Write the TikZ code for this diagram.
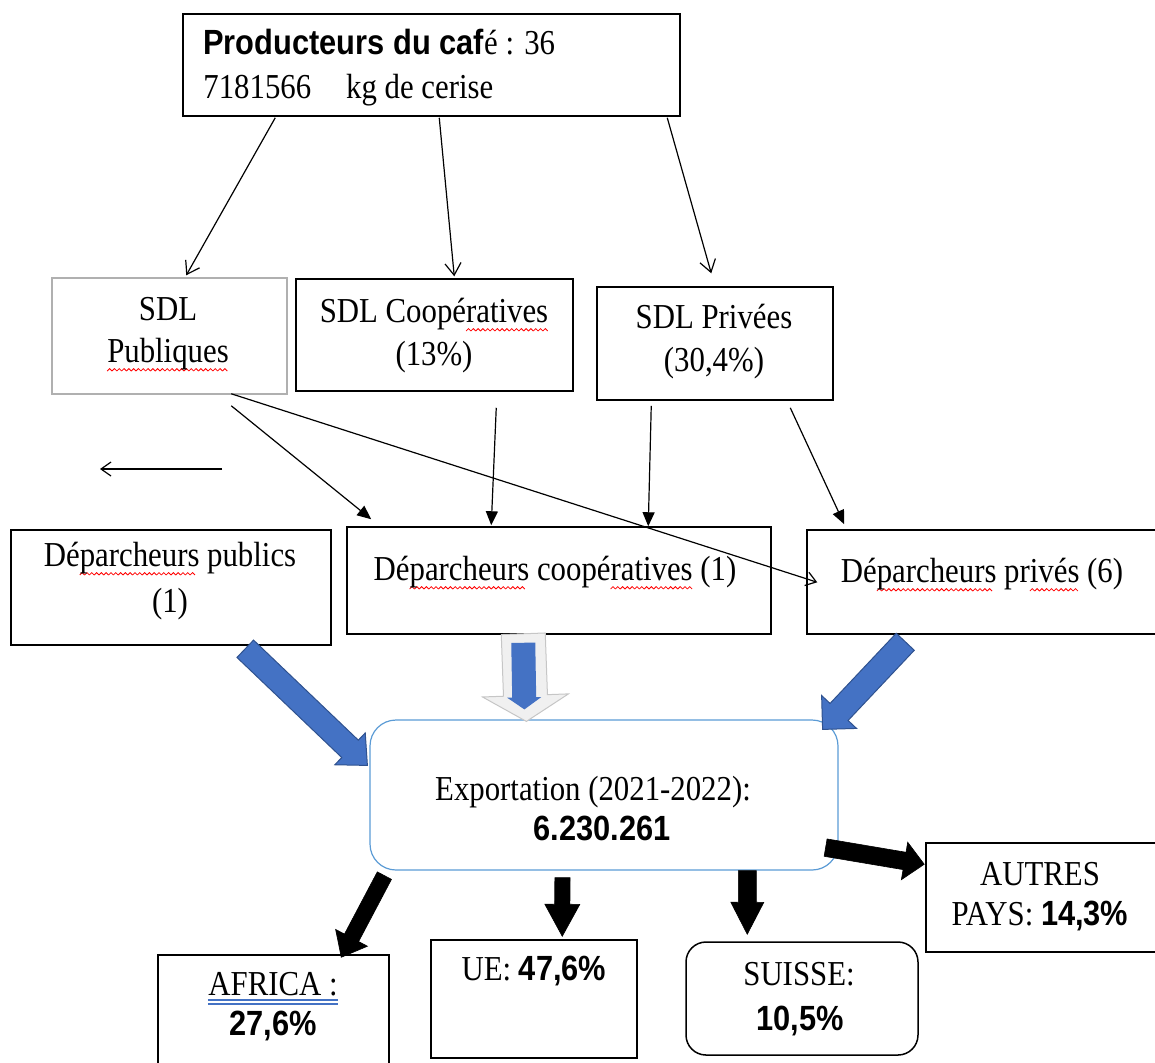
\documentclass[tikz,border=0pt]{standalone}
\usepackage{fontspec}
\setmainfont{Liberation Serif}[FakeStretch=0.88]
\setsansfont{Liberation Sans}[FakeStretch=0.88]
\usetikzlibrary{arrows.meta,calc}
\definecolor{blueFill}{HTML}{4472C4}
\definecolor{blueEdge}{HTML}{2F528F}
\definecolor{expBorder}{HTML}{5B9BD5}
\definecolor{pubBorder}{HTML}{B0B0B0}
\newsavebox\wavebox
\newsavebox\waveunit
\sbox\waveunit{\tikz[baseline=0pt]{\useasboundingbox (0pt,0pt) rectangle (2.4pt,1.2pt);
  \draw[red, line width=0.4pt] (0pt,0pt) -- (1.2pt,1.2pt) -- (2.4pt,0pt);}}
\newcommand\redwave[1]{\sbox\wavebox{#1}\rlap{\lower4.5pt\hbox to \wd\wavebox{\leaders\copy\waveunit\hfill}}\usebox\wavebox}
\newcommand\boldnum[1]{\textsf{\bfseries #1}}
% block arrow: style, start, end, half shaft, half head, head length
\newcommand\blockarrow[6]{%
  \coordinate (ba-c) at ($(#3)!#6!(#2)$);
  \path[#1] ($(#2)!#4!90:(#3)$) -- ($(ba-c)!#4!-90:(#2)$) -- ($(ba-c)!#5!-90:(#2)$) -- (#3)
    -- ($(ba-c)!#5!90:(#2)$) -- ($(ba-c)!#4!90:(#2)$) -- ($(#2)!#4!-90:(#3)$) -- cycle;
}
\tikzset{
  box/.style={draw=black, line width=0.75pt, inner sep=0pt},
  lbl/.style={inner sep=0pt, anchor=base, font=\fontsize{17.5}{21}\selectfont},
  thinline/.style={draw=black, line width=0.6pt},
  barbtip/.style={thinline, -{Straight Barb[length=6pt,width=8pt]}},
  smallbarb/.style={thinline, -{Straight Barb[length=5pt,width=7pt]}},
  tritip/.style={thinline, -{Triangle[length=7pt,width=6pt]}},
  bluearrow/.style={fill=blueFill, draw=blueEdge, line width=0.5pt, line join=miter},
  grayarrow/.style={fill=gray!12, draw=gray!45, line width=0.5pt},
  blackarrow/.style={fill=black, draw=black, line width=0.3pt},
}
\begin{document}
\begin{tikzpicture}[x=0.5pt, y=-0.5pt]
\useasboundingbox (0,0) rectangle (1155,1062);

% boxes
\node[box, minimum width=248.5pt, minimum height=51pt] (top) at (431.5,65) {};
\node[box, draw=pubBorder, minimum width=117.5pt, minimum height=58pt] (pub) at (169.5,336) {};
\node[box, minimum width=138.5pt, minimum height=56pt] (coop) at (434.5,335) {};
\node[box, minimum width=118pt, minimum height=56.5pt] (priv) at (715,343.5) {};
\node[box, minimum width=160pt, minimum height=57.5pt] (dpub) at (171,587.5) {};
\node[box, minimum width=212pt, minimum height=53.5pt] (dcoop) at (559,580.5) {};
\node[box, minimum width=179pt, minimum height=52pt] (dpriv) at (986,582) {};
\node[draw=expBorder, line width=0.6pt, rounded corners=13pt, inner sep=0pt,
      minimum width=234pt, minimum height=75pt] (exp) at (604,795) {};
\node[box, minimum width=115.5pt, minimum height=57.5pt] (afr) at (273.5,1012.5) {};
\node[box, minimum width=103pt, minimum height=59pt] (ue) at (534,999) {};
\node[box, rounded corners=10pt, minimum width=116pt, minimum height=56.5pt] (sui) at (802,998.5) {};
\node[box, minimum width=117pt, minimum height=54.5pt] (aut) at (1043,897.5) {};

% texts
\node[lbl, anchor=base west] (t-top1) at (203,54) {\boldnum{Producteurs du caf}é : 36};
\node[lbl, anchor=base west] (t-top2) at (203,98) {7181566\quad kg de cerise};
\node[lbl] (t-pub1) at (168,320) {SDL};
\node[lbl] (t-pub2) at (168,362) {\redwave{Publiques}};
\node[lbl] (t-coop1) at (434,322) {SDL Coopé\redwave{ratives}};
\node[lbl] (t-coop2) at (434,365) {(13\%)};
\node[lbl] (t-priv1) at (714,328) {SDL Privées};
\node[lbl] (t-priv2) at (714,371) {(30,4\%)};
\node[lbl] (t-dpub1) at (170,566) {Dé\redwave{parcheurs} publics};
\node[lbl] (t-dpub2) at (170,612) {(1)};
\node[lbl] (t-dcoop) at (555,580) {Dé\redwave{parcheurs} coopé\redwave{ratives} (1)};
\node[lbl] (t-dpriv) at (982,582) {Dé\redwave{parcheurs} pr\redwave{ivés} (6)};
\node[lbl] (t-exp1) at (593,800) {Exportation (2021-2022):};
\node[lbl] (t-exp2) at (602,840) {\boldnum{6.230.261}};
\node[lbl] (t-afr1) at (273,995) {AFRICA :};
\node[lbl] (t-afr2) at (273,1035) {\boldnum{27,6\%}};
\node[lbl] (t-ue) at (534,980) {UE: \boldnum{47,6\%}};
\node[lbl] (t-sui1) at (799,985) {SUISSE:};
\node[lbl] (t-sui2) at (800,1030) {\boldnum{10,5\%}};
\node[lbl] (t-aut1) at (1040,885) {AUTRES};
\node[lbl] (t-aut2) at (1040,925) {PAYS: \boldnum{14,3\%}};
% double blue underline under AFRICA
\draw[blueFill, line width=0.6pt] ($(t-afr1.base west)+(0,5)$) -- ($(t-afr1.base east)+(0,5)$);
\draw[blueFill, line width=0.6pt] ($(t-afr1.base west)+(0,9)$) -- ($(t-afr1.base east)+(0,9)$);

% thin connectors from producers
\draw[barbtip] ($(top.south west)+(93,1)$) -- ($(pub.north west)+(135,-2)$);
\draw[barbtip] ($(top.south west)+(257,1)$) -- ($(coop.north west)+(159,-2)$);
\draw[barbtip] ($(top.south west)+(485,1)$) -- ($(priv.north west)+(115,-13)$);

% free arrow
\coordinate (la1) at (222,469);
\coordinate (la2) at (100,469);
\draw[smallbarb] (la1) -- (la2);

% SDL -> Déparcheurs
\draw[tritip] ($(pub.south west)+(180,11)$) -- ($(dcoop.north west)+(25,-7)$);
\draw[tritip] ($(coop.south west)+(201,16)$) -- ($(dcoop.north west)+(145,-1)$);
\draw[tritip] ($(priv.south west)+(55,5)$) -- ($(dcoop.north west)+(302,0)$);
\draw[tritip] ($(priv.south west)+(194,7)$) -- ($(dpriv.north west)+(38,-5)$);
\draw[smallbarb] ($(pub.south west)+(180,-1)$) -- ($(dpriv.north west)+(11,53)$);

% blue block arrows
\coordinate (bl-a) at ($(dpub.south west)+(235,3)$);
\coordinate (bl-b) at ($(exp.north west)+(-2,46)$);
\blockarrow{bluearrow}{bl-a}{bl-b}{6pt}{11pt}{12pt}
\coordinate (br-a) at ($(dpriv.south west)+(99,7)$);
\coordinate (br-b) at ($(exp.north east)+(-16,10)$);
\blockarrow{bluearrow}{br-a}{br-b}{6.2pt}{12pt}{12pt}
\coordinate (bm-a) at ($(dcoop.south west)+(177,-1)$);
\coordinate (bm-b) at ($(exp.north west)+(157,2)$);
\blockarrow{grayarrow}{bm-a}{bm-b}{11pt}{21.5pt}{13pt}
\coordinate (bmi-a) at ($(dcoop.south west)+(177,8)$);
\coordinate (bmi-b) at ($(exp.north west)+(155,-10)$);
\blockarrow{fill=blueFill}{bmi-a}{bmi-b}{6pt}{8.5pt}{6pt}

% black block arrows
\coordinate (k1-a) at ($(exp.south west)+(15,5)$);
\coordinate (k1-b) at ($(afr.north west)+(184,3)$);
\blockarrow{blackarrow}{k1-a}{k1-b}{4pt}{9pt}{11pt}
\coordinate (k2-a) at ($(exp.south west)+(193,7)$);
\coordinate (k2-b) at ($(ue.north west)+(132,-3)$);
\blockarrow{blackarrow}{k2-a}{k2-b}{3.8pt}{8.75pt}{16pt}
\coordinate (k3-a) at ($(exp.south west)+(378,0)$);
\coordinate (k3-b) at ($(sui.north west)+(62,-7)$);
\blockarrow{blackarrow}{k3-a}{k3-b}{4.5pt}{8.25pt}{16pt}
\coordinate (k4-a) at ($(exp.south east)+(-13,-23)$);
\coordinate (k4-b) at ($(aut.north west)+(-1,22)$);
\blockarrow{blackarrow}{k4-a}{k4-b}{4.4pt}{9.5pt}{10pt}
\end{tikzpicture}
\end{document}
